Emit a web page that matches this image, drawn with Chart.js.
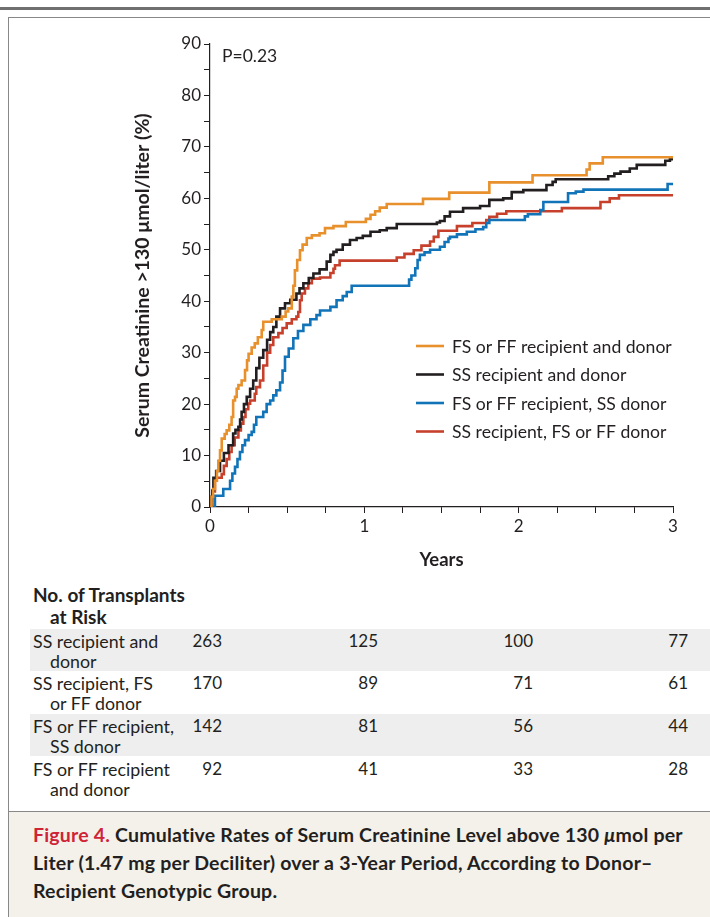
<!DOCTYPE html>
<html>
<head>
<meta charset="utf-8">
<script src="https://cdn.jsdelivr.net/npm/chart.js@4.4.1/dist/chart.umd.min.js"></script>
<style>
  body { margin:0; width:710px; height:917px; position:relative; background:#fff; font-family:Lato, sans-serif; color:#231f20; overflow:hidden; }
  #rule { position:absolute; left:0; top:7px; width:710px; height:3px; background:#707070; }
  #box { position:absolute; left:8px; top:17px; width:702px; height:900px; border-top:1px solid #888; border-left:1px solid #888; }
  #chart { position:absolute; left:0; top:0; }
  .band { position:absolute; left:30px; width:680px; background:#eeeeee; }
  .lab { position:absolute; font-size:17.8px; white-space:nowrap; line-height:20px; }
  .num { position:absolute; font-size:17px; line-height:20px; text-align:right; width:60px; }
  .head { position:absolute; left:33px; font-size:19px; font-weight:bold; line-height:22px; }
  #caption { position:absolute; left:9px; top:811px; width:701px; height:106px; background:#f4f1eb; border-top:1.5px solid #888; }
  #caption p { margin:0; position:absolute; left:24px; top:9px; font-size:19.5px; letter-spacing:0.2px; font-weight:bold; line-height:28px; white-space:nowrap; }
  #caption span.fig { color:#cf2336; }
</style>
</head>
<body>
<div id="rule"></div>
<div id="box"></div>
<canvas id="chart" width="710" height="580"></canvas>
<div id="risk"></div>
<div id="caption"><p><span class="fig">Figure 4.</span> Cumulative Rates of Serum Creatinine Level above 130 <i>μ</i>mol per<br>Liter (1.47 mg per Deciliter) over a 3-Year Period, According to Donor–<br>Recipient Genotypic Group.</p></div>
<script>
// courbes (années, %)
const ffTimes = [0, 0.01, 0.02, 0.032, 0.045, 0.054, 0.065, 0.076, 0.095, 0.108, 0.125, 0.14, 0.15, 0.162, 0.173, 0.184, 0.205, 0.227, 0.24, 0.25, 0.27, 0.29, 0.31, 0.335, 0.345, 0.40, 0.465, 0.49, 0.507, 0.53, 0.54, 0.55, 0.565, 0.583, 0.60, 0.627, 0.66, 0.71, 0.745, 0.80, 0.88, 1.01, 1.04, 1.07, 1.10, 1.145, 1.38, 1.55, 1.81, 2.09, 2.44, 2.46, 2.545, 3.0];
const ffValues = [0, 2, 3.5, 5.1, 7, 9, 11, 13.3, 14.2, 14.9, 16, 17.5, 20.7, 21.4, 23, 23.7, 24.6, 26.6, 28.5, 29.8, 31, 31.8, 33, 34.4, 36, 36.5, 37, 38, 38.6, 40.9, 43, 46, 48, 49.9, 51, 52.3, 52.8, 53.2, 54.2, 54.6, 55.4, 56, 56.8, 57.5, 58.2, 58.9, 59.9, 61.1, 63.1, 64.5, 65.6, 66.8, 68.0, 68.0];

const ssTimes = [0, 0.01, 0.015, 0.022, 0.04, 0.065, 0.09, 0.12, 0.15, 0.165, 0.184, 0.195, 0.205, 0.22, 0.238, 0.26, 0.28, 0.30, 0.32, 0.345, 0.37, 0.39, 0.41, 0.43, 0.454, 0.486, 0.52, 0.56, 0.58, 0.605, 0.64, 0.67, 0.71, 0.756, 0.78, 0.80, 0.82, 0.86, 0.907, 0.95, 0.99, 1.04, 1.10, 1.145, 1.21, 1.437, 1.47, 1.49, 1.52, 1.555, 1.64, 1.75, 1.81, 1.90, 1.955, 2.03, 2.18, 2.22, 2.24, 2.58, 2.62, 2.66, 2.72, 2.765, 2.95, 2.98, 3.0];
const ssValues = [0, 2, 3.2, 5.7, 7, 9, 10.5, 12, 14.3, 15, 15.6, 17, 18.5, 20, 21.4, 23, 24.6, 27, 29, 30.5, 32.5, 34, 35, 37, 38.6, 39.6, 40.3, 41.5, 42.5, 43.5, 44.5, 45.4, 46.2, 47.7, 49, 49.6, 50, 51, 51.9, 52.3, 52.7, 53.5, 53.8, 54.2, 55, 55, 55.3, 55.6, 56.5, 57.4, 58.1, 58.5, 59.7, 60, 61.2, 61.6, 62.6, 63.2, 63.7, 64.3, 64.8, 65.2, 65.8, 66.5, 67.3, 67.6, 67.8];

const ffSsTimes = [0, 0.032, 0.086, 0.13, 0.145, 0.162, 0.178, 0.194, 0.21, 0.227, 0.25, 0.27, 0.285, 0.30, 0.345, 0.367, 0.39, 0.41, 0.43, 0.454, 0.47, 0.486, 0.51, 0.54, 0.57, 0.605, 0.65, 0.69, 0.713, 0.78, 0.82, 0.86, 0.886, 0.918, 1.275, 1.29, 1.305, 1.33, 1.345, 1.36, 1.39, 1.426, 1.49, 1.52, 1.545, 1.555, 1.60, 1.664, 1.72, 1.77, 1.79, 1.81, 2.01, 2.04, 2.06, 2.14, 2.16, 2.31, 2.32, 2.37, 2.42, 2.96, 2.965, 3.0];
const ffSsValues = [0, 2.2, 3.5, 5.1, 6.5, 7.8, 9.3, 10.7, 12, 13, 14, 14.6, 16, 17.5, 18.5, 20, 20.7, 21.7, 22.7, 24.2, 26.5, 29.2, 30.8, 32.8, 34.2, 35.4, 36.5, 37.3, 38.2, 38.9, 40.2, 41, 41.8, 43, 43, 44.2, 45, 46.4, 48, 49, 49.5, 50, 50.6, 51.5, 52.2, 52.5, 53, 53.5, 54, 54.4, 55.2, 55.8, 55.8, 56.5, 56.9, 57.7, 59.3, 59.3, 61, 61.3, 61.7, 61.7, 62.8, 62.8];

const ssFfTimes = [0, 0.015, 0.032, 0.043, 0.076, 0.09, 0.108, 0.125, 0.14, 0.16, 0.184, 0.20, 0.216, 0.23, 0.248, 0.26, 0.29, 0.30, 0.324, 0.345, 0.37, 0.39, 0.41, 0.443, 0.47, 0.497, 0.53, 0.56, 0.572, 0.583, 0.594, 0.615, 0.637, 0.66, 0.713, 0.78, 0.80, 0.81, 0.84, 1.19, 1.21, 1.26, 1.32, 1.37, 1.426, 1.45, 1.48, 1.59, 1.60, 1.70, 1.79, 1.81, 1.86, 1.92, 2.28, 2.53, 2.59, 2.65, 3.0];
const ssFfValues = [0, 3, 5.2, 5.7, 6.4, 8, 9.3, 10.7, 12, 13.5, 14.9, 16.2, 17.5, 19, 20.1, 20.7, 22, 23.3, 24.6, 27.5, 30, 31.5, 33, 33.8, 34.8, 35.7, 36.5, 37, 37.9, 40.2, 41.5, 42.5, 43.5, 44.4, 44.6, 45.5, 46.3, 47, 47.9, 47.9, 48.5, 49.2, 49.9, 50.8, 51.6, 52.5, 53.7, 53.7, 54.6, 55.2, 55.8, 56.4, 57, 57.5, 58.1, 59.3, 60, 60.6, 60.6];

const seriesLabels = ['FS or FF recipient and donor', 'SS recipient and donor', 'FS or FF recipient, SS donor', 'SS recipient, FS or FF donor'];
const seriesColors = ['#e8902c', '#231f20', '#1274b8', '#c6402c'];

// tableau des patients à risque
const riskLabels = [['SS recipient and', 'donor'], ['SS recipient, FS', 'or FF donor'], ['FS or FF recipient,', 'SS donor'], ['FS or FF recipient', 'and donor']];
const riskSsSs = [263, 125, 100, 77];
const riskSsFf = [170, 89, 71, 61];
const riskFfSs = [142, 81, 56, 44];
const riskFfFf = [92, 41, 33, 28];

const allTimes = [ffTimes, ssTimes, ffSsTimes, ssFfTimes];
const allValues = [ffValues, ssValues, ffSsValues, ssFfValues];

const legendPlugin = {
  id: 'inlineLegend',
  afterDraw(c) {
    const ctx = c.ctx;
    ctx.save();
    ctx.textBaseline = 'middle';
    ctx.fillStyle = '#231f20';
    ctx.font = '17.5px Lato';
    ctx.fillText('P=0.23', 222, 56);
    ctx.font = '17.6px Lato';
    c.data.datasets.forEach((d, i) => {
      const y = 346 + i * 28.5;
      ctx.strokeStyle = d.borderColor;
      ctx.lineWidth = 2.6;
      ctx.beginPath();
      ctx.moveTo(416, y);
      ctx.lineTo(444, y);
      ctx.stroke();
      ctx.fillStyle = '#231f20';
      ctx.fillText(d.label, 452, y + 1);
    });
    ctx.restore();
  }
};

const tickFont = { family: 'Lato', size: 17 };
new Chart(document.getElementById('chart'), {
  type: 'line',
  data: {
    datasets: seriesLabels.map((lab, k) => ({
      label: lab,
      data: allTimes[k].map((t, i) => ({ x: t, y: allValues[k][i] })),
      borderColor: seriesColors[k],
      borderWidth: 2.6,
      stepped: true,
      pointRadius: 0,
      fill: false
    }))
  },
  options: {
    responsive: false,
    animation: false,
    layout: { padding: { left: 130, top: 44, right: 37, bottom: 0 } },
    plugins: { legend: { display: false }, tooltip: { enabled: false } },
    scales: {
      x: {
        type: 'linear', min: 0, max: 3,
        afterFit: s => { s.height = 73; },
        ticks: { stepSize: 0.25, autoSkip: false, maxRotation: 0, padding: 3, color: '#231f20', font: tickFont,
          callback: v => Number.isInteger(v) ? v : '' },
        grid: { drawOnChartArea: false, tickLength: 6, color: '#231f20', lineWidth: 1 },
        border: { color: '#231f20', width: 1.2 },
        title: { display: true, text: 'Years', color: '#231f20', font: { family: 'Lato', size: 18.5, weight: 'bold' }, padding: { top: 0, bottom: 9 } }
      },
      y: {
        min: 0, max: 90,
        afterFit: s => { s.width = 80; },
        ticks: { stepSize: 5, autoSkip: false, padding: 3, color: '#231f20', font: tickFont,
          callback: v => v % 10 === 0 ? v : '' },
        grid: { drawOnChartArea: false, tickLength: 6, color: '#231f20', lineWidth: 1 },
        border: { color: '#231f20', width: 1.2 },
        title: { display: true, text: 'Serum Creatinine >130 μmol/liter (%)', color: '#231f20', font: { family: 'Lato', size: 19.5, weight: 'bold' }, padding: { top: 1, bottom: 0 } }
      }
    }
  },
  plugins: [legendPlugin]
});

// tableau sous le graphique
const risk = document.getElementById('risk');
const riskRows = [riskSsSs, riskSsFf, riskFfSs, riskFfFf];
const rowTops = [629, 671, 714, 757];
const numRight = [222, 378, 533, 688];
let html = '<div class="head" style="top:584px">No. of Transplants</div><div class="head" style="top:606px;left:50px">at Risk</div>';
riskRows.forEach((row, r) => {
  const top = rowTops[r];
  if (r % 2 === 0) html += `<div class="band" style="top:${top}px;height:42px"></div>`;
  html += `<div class="lab" style="left:33px;top:${top + 2}px">${riskLabels[r][0]}</div>`;
  html += `<div class="lab" style="left:50px;top:${top + 22}px">${riskLabels[r][1]}</div>`;
  row.forEach((n, j) => {
    html += `<div class="num" style="left:${numRight[j] - 60}px;top:${top + 2}px">${n}</div>`;
  });
});
risk.innerHTML = html;
</script>
</body>
</html>
